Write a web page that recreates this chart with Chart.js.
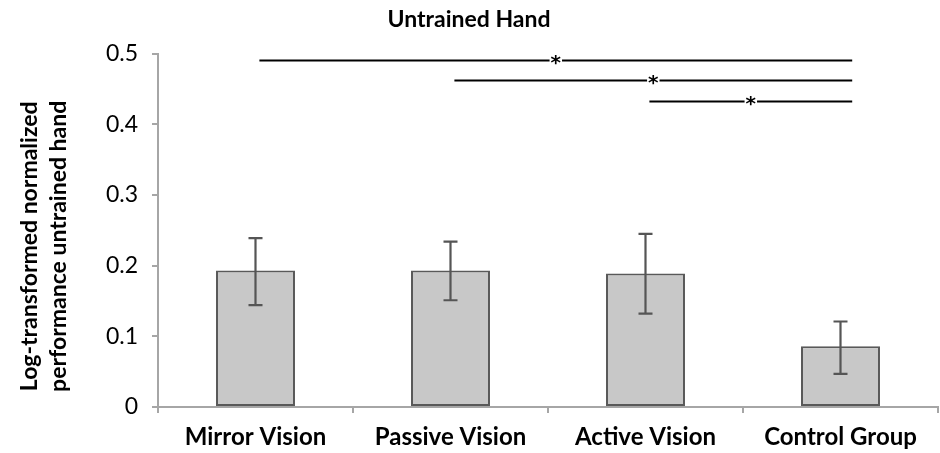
<!DOCTYPE html>
<html lang="en">
  <head>
    <meta charset="UTF-8" />
    <title>Untrained Hand</title>
    <style>
      html, body { margin: 0; padding: 0; background: #fff; }
      #wrap { width: 940px; height: 453px; }
    </style>
  </head>
  <body>
    <div id="wrap"><canvas id="chart" width="940" height="453"></canvas></div>

    <script src="https://cdn.jsdelivr.net/npm/chart.js@4.4.1/dist/chart.umd.min.js"></script>
    <script>
      // data
      const categories = ['Mirror Vision', 'Passive Vision', 'Active Vision', 'Control Group'];
      const means = [0.193, 0.193, 0.189, 0.086];
      const errHigh = [0.239, 0.234, 0.245, 0.121];
      const errLow = [0.144, 0.151, 0.132, 0.047];
      const yTicks = [0, 0.1, 0.2, 0.3, 0.4, 0.5];
      const yTitle = ['Log-transformed normalized', 'performance untrained hand'];

      // significance brackets: from category -> to category, at value
      const sigFrom = [0, 1, 2];
      const sigTo = [3, 3, 3];
      const sigLevel = [0.491, 0.462, 0.433];
      const sigLabel = ['*', '*', '*'];

      const FONT = 'Lato, "Open Sans", sans-serif';

      // draws the whiskers
      const errorBars = {
        id: 'errorBars',
        afterDatasetsDraw(chart) {
          const ctx = chart.ctx;
          const x = chart.scales.x, y = chart.scales.y;
          ctx.save();
          ctx.strokeStyle = '#555555';
          ctx.lineWidth = 2.2;
          means.forEach((m, i) => {
            const px = x.getPixelForValue(i);
            const top = y.getPixelForValue(errHigh[i]);
            const bot = y.getPixelForValue(errLow[i]);
            ctx.beginPath();
            ctx.moveTo(px, top); ctx.lineTo(px, bot);
            ctx.moveTo(px - 7, top); ctx.lineTo(px + 7, top);
            ctx.moveTo(px - 7, bot); ctx.lineTo(px + 7, bot);
            ctx.stroke();
          });
          ctx.restore();
        }
      };

      // draws the * lines up top
      const sigLines = {
        id: 'sigLines',
        afterDatasetsDraw(chart) {
          const ctx = chart.ctx;
          const x = chart.scales.x, y = chart.scales.y;
          const step = x.getPixelForValue(1) - x.getPixelForValue(0);
          ctx.save();
          ctx.font = 'bold 20px "DejaVu Sans", sans-serif';
          ctx.fillStyle = '#000';
          ctx.strokeStyle = '#000';
          ctx.lineWidth = 1.8;
          ctx.textAlign = 'center';
          ctx.textBaseline = 'alphabetic';
          sigLevel.forEach((v, i) => {
            const x1 = x.getPixelForValue(sigFrom[i]) + step * 0.02;
            const x2 = x.getPixelForValue(sigTo[i]) + step * 0.06;
            const py = Math.round(y.getPixelForValue(v)) + 0.5;
            const mid = (x1 + x2) / 2;
            const half = ctx.measureText(sigLabel[i]).width / 2 + 1;
            ctx.beginPath();
            ctx.moveTo(x1, py); ctx.lineTo(mid - half, py);
            ctx.moveTo(mid + half, py); ctx.lineTo(x2, py);
            ctx.stroke();
            ctx.fillText(sigLabel[i], mid, py + 8);
          });
          ctx.restore();
        }
      };

      // rotated y-axis label, a bit below the plot's middle like the original
      const yLabel = {
        id: 'yLabel',
        afterDraw(chart) {
          const ctx = chart.ctx;
          const a = chart.chartArea;
          ctx.save();
          ctx.translate(0, (a.top + a.bottom) / 2 + 16);
          ctx.rotate(-Math.PI / 2);
          ctx.font = 'bold 23px ' + FONT;
          ctx.fillStyle = '#000';
          ctx.textAlign = 'center';
          ctx.textBaseline = 'middle';
          ctx.fillText(yTitle[0], 0, 30);
          ctx.fillText(yTitle[1], 0, 59);
          ctx.restore();
        }
      };

      new Chart(document.getElementById('chart'), {
        type: 'bar',
        data: {
          labels: categories,
          datasets: [{
            data: means,
            backgroundColor: '#c8c8c8',
            borderColor: '#595959',
            borderWidth: 2,
            borderSkipped: false,
            categoryPercentage: 1,
            barPercentage: 0.405
          }]
        },
        options: {
          responsive: false,
          animation: false,
          devicePixelRatio: 1,
          layout: { padding: { left: 0, right: 2, top: 0, bottom: 0 } },
          plugins: {
            legend: { display: false },
            tooltip: { enabled: false },
            title: {
              display: true,
              text: 'Untrained Hand',
              color: '#000',
              font: { family: FONT, size: 23, weight: 'bold', lineHeight: 1.2 },
              padding: { top: 6, bottom: 20 }
            }
          },
          scales: {
            x: {
              afterFit(s) { s.height = 46; },
              grid: { drawOnChartArea: false, drawTicks: true, tickLength: 6, color: '#a6a6a6', lineWidth: 2 },
              border: { color: '#a6a6a6', width: 2 },
              ticks: {
                color: '#000',
                padding: 10,
                font: { family: FONT, size: 24, weight: 'bold' }
              }
            },
            y: {
              min: 0,
              max: 0.5,
              afterFit(s) { s.width = 158; },
              afterBuildTicks(s) { s.ticks = yTicks.map(v => ({ value: v })); },
              grid: { drawOnChartArea: false, drawTicks: true, tickLength: 6, color: '#a6a6a6', lineWidth: 2 },
              border: { color: '#a6a6a6', width: 2 },
              ticks: {
                color: '#000',
                padding: 14,
                font: { family: FONT, size: 23 },
                callback: v => String(Number(v.toFixed(1)))
              }
            }
          }
        },
        plugins: [errorBars, sigLines, yLabel]
      });
    </script>
  </body>
</html>
